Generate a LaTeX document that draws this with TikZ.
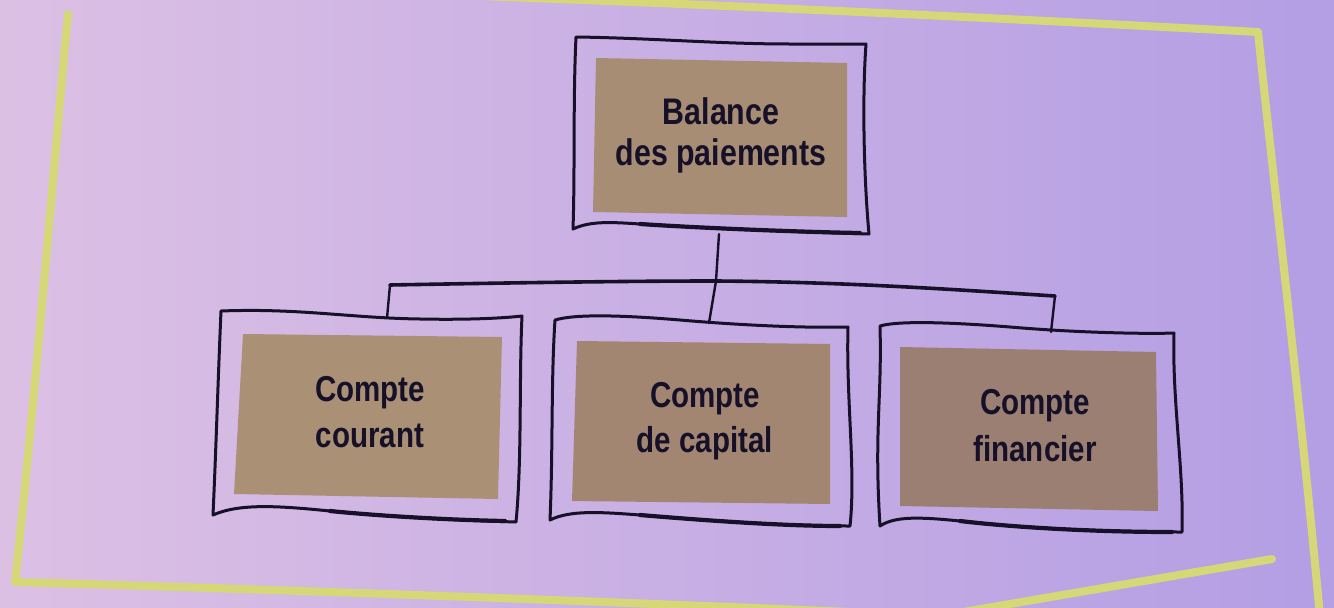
\documentclass[tikz,border=0pt]{standalone}
\usepackage{fontspec}
\setmainfont{Liberation Sans}[FakeStretch=0.82]
\definecolor{bgL}{RGB}{220,192,228}
\definecolor{bgR}{RGB}{180,158,228}
\definecolor{hl}{RGB}{214,216,120}
\definecolor{ink}{RGB}{22,16,40}
\definecolor{tanA}{RGB}{166,141,116}
\definecolor{tanB}{RGB}{170,145,118}
\definecolor{tanC}{RGB}{162,134,114}
\definecolor{tanD}{RGB}{154,127,114}
\begin{document}
\begin{tikzpicture}[x=1pt,y=-1pt,
  frame/.style={draw=ink,line width=3pt,line join=round,line cap=round},
  heavy/.style={draw=ink,line width=4.2pt,line cap=round},
  link/.style={draw=ink,line width=2.4pt,line cap=round},
  hlink/.style={draw=ink,line width=3.6pt,line cap=round,line join=round},
  border/.style={draw=hl,line width=8pt,line cap=round,line join=round},
  label/.style={text=ink,align=center,inner sep=0pt}]
\useasboundingbox (0,0) rectangle (1334,608);
\shade[left color=bgL,right color=bgR] (0,0) rectangle (1334,608);
% yellow highlighter border
\draw[border] (68,14) .. controls (55,150) and (35,400) .. (15,582)
  .. controls (300,590) and (700,605) .. (940,616) -- (1272,559);
\draw[border] (480,-4) .. controls (700,4) and (1000,18) .. (1258,32)
  .. controls (1270,150) and (1300,400) .. (1320,616);
% tan panels
\fill[tanA] (596,58) -- (847,63) -- (847,217) -- (593,212) -- cycle;
\fill[tanB] (243,334) -- (502,337) -- (498,499) -- (234,494) -- cycle;
\fill[tanC] (577,341) -- (830,344) -- (830,504) -- (572,501) -- cycle;
\fill[tanD] (900,347) -- (1156,352) -- (1158,511) -- (900,506) -- cycle;
% frames
\draw[frame] (576,37) .. controls (650,38) and (720,44) .. (790,44) .. controls (830,44) and (855,44) .. (866,44)
  .. controls (862,100) and (864,180) .. (869,234)
  .. controls (800,232) and (700,228) .. (640,224) .. controls (610,222) and (590,221) .. (573,229)
  .. controls (575,170) and (573,100) .. (576,37) -- cycle;
\draw[heavy] (860,233) .. controls (800,232) and (700,228) .. (640,224);
\draw[frame] (221,311) .. controls (300,308) and (350,318) .. (420,319) .. controls (470,320) and (505,318) .. (522,316)
  .. controls (519,380) and (522,460) .. (516,522)
  .. controls (450,520) and (380,516) .. (330,511) .. controls (280,506) and (240,503) .. (213,515)
  .. controls (216,450) and (218,380) .. (221,311) -- cycle;
\draw[heavy] (505,521) .. controls (450,520) and (380,516) .. (330,511);
\draw[frame] (555,320) .. controls (575,314) and (620,315) .. (680,320) .. controls (750,326) and (810,328) .. (848,327)
  .. controls (846,400) and (856,470) .. (850,526)
  .. controls (780,526) and (700,520) .. (640,515) .. controls (600,512) and (570,510) .. (550,520)
  .. controls (553,450) and (551,380) .. (555,320) -- cycle;
\draw[heavy] (840,526) .. controls (780,526) and (700,520) .. (640,515);
\draw[frame] (880,326) .. controls (900,320) and (960,323) .. (1010,327) .. controls (1080,333) and (1150,334) .. (1174,333)
  .. controls (1172,400) and (1184,470) .. (1182,532)
  .. controls (1100,532) and (1020,528) .. (960,521) .. controls (920,517) and (895,516) .. (880,526)
  .. controls (874,430) and (882,400) .. (880,326) -- cycle;
\draw[heavy] (1172,532) .. controls (1100,532) and (1020,528) .. (960,521);
% labels
\node[label,font=\bfseries\fontsize{37}{41}\selectfont] (bal) at (721,135) {Balance\\des paiements};
\node[label,font=\bfseries\fontsize{36}{46}\selectfont] (cc) at (370,412) {Compte\\courant};
\node[label,font=\bfseries\fontsize{36}{45}\selectfont] (ck) at (705,421) {Compte\\de capital};
\node[label,font=\bfseries\fontsize{36}{47}\selectfont] (cf) at (1035,426) {Compte\\financier};
% attachment points
\coordinate (tb) at (719,234);
\coordinate (hj) at (716,281);
\coordinate (hl) at (390,285);
\coordinate (hr) at (1055,296);
\coordinate (lb) at (387,318);
\coordinate (mb) at (709,323);
\coordinate (rb) at (1051,332);
\draw[link] (tb) -- (hj) -- (mb);
\draw[link] (lb) -- (hl);
\draw[link] (hr) -- (rb);
\draw[hlink] (hl) .. controls (500,283) and (620,281) .. (hj) .. controls (850,282) and (960,290) .. (hr);
\end{tikzpicture}
\end{document}
